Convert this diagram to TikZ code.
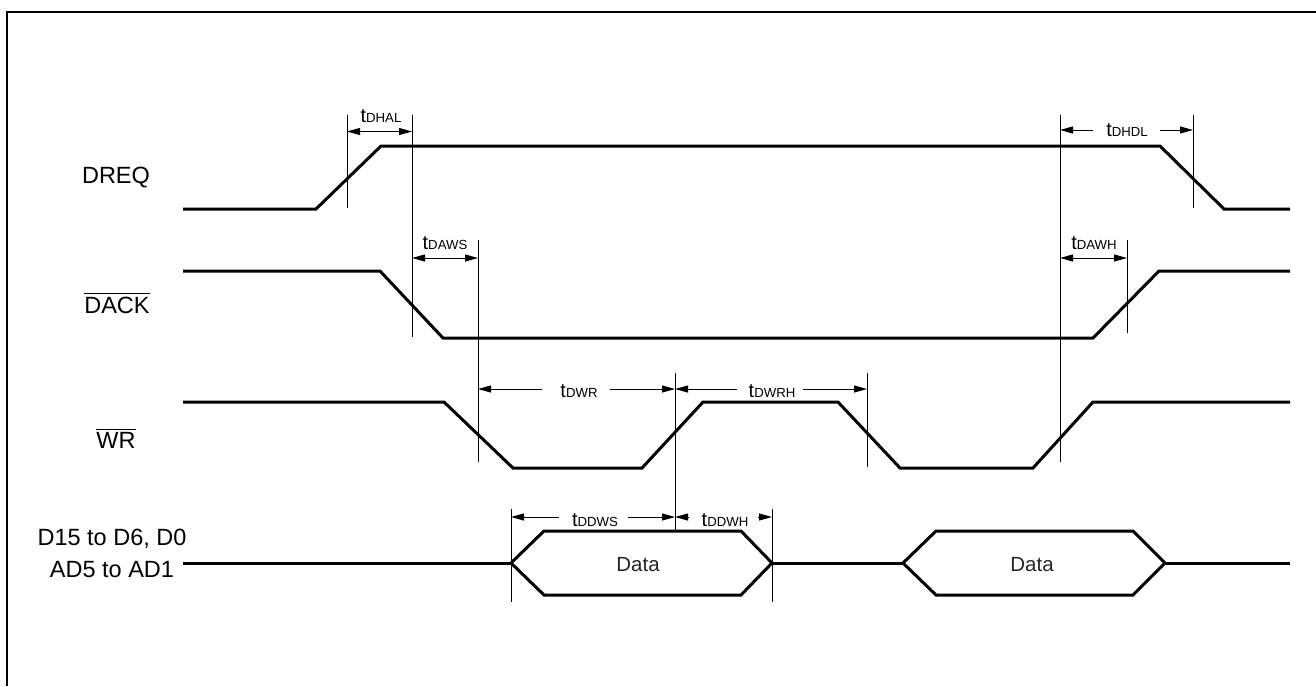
\documentclass[tikz,border=0pt]{standalone}
\usepackage{fontspec}
\setmainfont{Liberation Sans}
\usetikzlibrary{arrows.meta}
\newcommand\tlab[1]{{\fontsize{10}{10}\selectfont t}{\fontsize{6.6}{7}\selectfont #1}}
\begin{document}
\begin{tikzpicture}[x=0.5pt,y=-0.5pt,
  sig/.style={line width=1.5pt, line join=miter},
  frame/.style={line width=1pt},
  tick/.style={line width=0.5pt},
  tip/.tip={Triangle[length=6.5pt,width=3.5pt]},
  both/.style={line width=0.5pt, tip-tip},
  half/.style={line width=0.5pt, -tip},
  siglab/.style={font=\fontsize{11.75}{14}\selectfont, anchor=base, inner sep=0pt},
  datalab/.style={font=\fontsize{10.25}{12}\selectfont, text=black!85, anchor=base, inner sep=0pt},
  tl/.style={anchor=base, inner sep=0pt}]
\useasboundingbox (0,0) rectangle (1316,686);
% frame
\draw[frame] (7,686) -- (7,12) -- (1316,12);

% signal names
\node[siglab] (ldreq) at (116,183) {DREQ};
\node[siglab] (ldack) at (117,313) {$\overline{\hbox{DACK}}$};
\node[siglab] (lwr) at (116,448) {$\overline{\hbox{WR}}$};
\node[siglab] (ld1) at (112,545) {D15 to D6, D0};
\node[siglab] (ld2) at (112,577) {AD5 to AD1};

% waveforms
\draw[sig] (183,209) -- (316,209) -- (381,146) -- (1160,146) -- (1224,209) -- (1290,209);
\draw[sig] (183,271) -- (380,271) -- (443,338) -- (1093,338) -- (1159,271) -- (1290,271);
\draw[sig] (183,402) -- (444,402) -- (513,468) -- (642,468) -- (703,402) -- (838,402)
           -- (900,468) -- (1033,468) -- (1093,402) -- (1290,402);
\draw[sig] (183,563) -- (511,563);
\draw[sig] (511,563) -- (544,531) -- (741,531) -- (772,563) -- (741,595) -- (544,595) -- cycle;
\draw[sig] (772,563) -- (903,563);
\draw[sig] (903,563) -- (936,531) -- (1133,531) -- (1165,563) -- (1133,595) -- (936,595) -- cycle;
\draw[sig] (1165,563) -- (1290,563);
\node[datalab] (d1) at (638,571) {Data};
\node[datalab] (d2) at (1032,571) {Data};

% timing reference lines
\coordinate (a1) at (347,115);  \coordinate (a2) at (347,208);
\coordinate (b1) at (412,115);  \coordinate (b2) at (412,337);
\coordinate (c1) at (478,240);  \coordinate (c2) at (478,462);
\coordinate (e1) at (675,373);  \coordinate (e2) at (675,531);
\coordinate (f1) at (867,373);  \coordinate (f2) at (867,467);
\coordinate (g1) at (1060,115); \coordinate (g2) at (1060,462);
\coordinate (h1) at (1193,115); \coordinate (h2) at (1193,208);
\coordinate (k1) at (1127,240); \coordinate (k2) at (1127,333);
\coordinate (m1) at (511,509);  \coordinate (m2) at (511,602);
\coordinate (n1) at (772,509);  \coordinate (n2) at (772,602);
\foreach \p in {a,b,c,e,f,g,h,k,m,n} \draw[tick] (\p1) -- (\p2);

% tDHAL
\node[tl] (tdhal) at (381,122) {\tlab{DHAL}};
\draw[both] (347,131.5) -- (412,131.5);
% tDAWS
\node[tl] (tdaws) at (445,249) {\tlab{DAWS}};
\draw[both] (412,258) -- (478,258);
% tDAWH
\node[tl] (tdawh) at (1094,249) {\tlab{DAWH}};
\draw[both] (1060,258) -- (1127,258);
% tDHDL
\node[tl] (tdhdl) at (1127,136) {\tlab{DHDL}};
\draw[half] (1093,130) -- (1060,130);
\draw[half] (1160,130) -- (1193,130);
% tDWR
\node[tl] (tdwr) at (579,397) {\tlab{DWR}};
\draw[half] (542,389) -- (478,389);
\draw[half] (610,389) -- (675,389);
% tDWRH
\node[tl] (tdwrh) at (772,397) {\tlab{DWRH}};
\draw[half] (737,389) -- (675,389);
\draw[half] (803,389) -- (867,389);
% tDDWS
\node[tl] (tddws) at (595,526) {\tlab{DDWS}};
\draw[half] (559,517) -- (511,517);
\draw[half] (628,517) -- (675,517);
% tDDWH
\node[tl] (tddwh) at (725,526) {\tlab{DDWH}};
\draw[half] (688,517) -- (675,517);
\draw[half] (758,517) -- (772,517);
\end{tikzpicture}
\end{document}
